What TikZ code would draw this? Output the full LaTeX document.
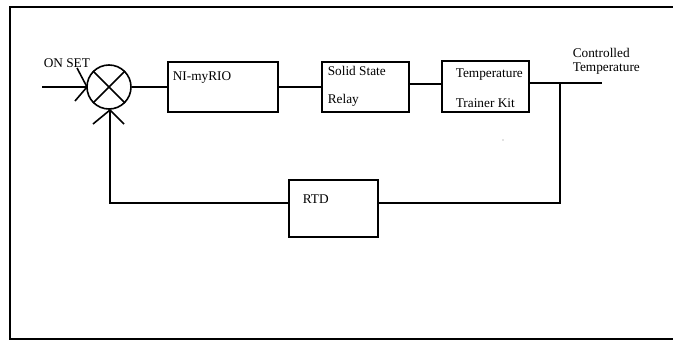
\documentclass[tikz,border=0pt]{standalone}
\usepackage{fontspec}
\setmainfont{Liberation Serif}
\begin{document}
\begin{tikzpicture}[x=1pt,y=-1pt,
  line width=1.6pt,
  blockbox/.style={draw, rectangle, inner sep=0pt},
  lbl/.style={inner sep=0pt, anchor=base west, font=\fontsize{13.3}{15}\selectfont},
  tipline/.style={line width=1.6pt}]
\useasboundingbox (0,0) rectangle (673,340);
% frame
\draw[line width=2pt] (673,7) -- (10,7) -- (10,338.5) -- (673,338.5);
% summing junction
\node[draw, circle, minimum size=44pt, inner sep=0pt] (sum) at (109,87) {};
\draw (sum.north west) -- (sum.south east);
\draw (sum.north east) -- (sum.south west);
% blocks
\node[blockbox, minimum width=110pt, minimum height=50pt] (ni) at (223,87) {};
\node[blockbox, minimum width=87pt, minimum height=50pt] (ssr) at (365.5,87) {};
\node[blockbox, minimum width=87pt, minimum height=51pt] (tk) at (485.5,86.5) {};
\node[blockbox, minimum width=89pt, minimum height=57pt] (rtd) at (333.5,208.5) {};
% labels
\node[lbl] (onset) at (43,67) {ON SET};
\node[lbl] (nit) at (172,80) {NI-myRIO};
\node[lbl] (ssr1) at (327,75) {Solid State};
\node[lbl] (ssr2) at (327,103) {Relay};
\node[lbl] (tk1) at (455,77) {Temperature};
\node[lbl] (tk2) at (455,107) {Trainer Kit};
\node[lbl] (ct1) at (572,57) {Controlled};
\node[lbl] (ct2) at (572,71) {Temperature};
\node[lbl] (rtdt) at (302,203) {RTD};
% coordinates
\coordinate (in) at (42,87);
\coordinate (br) at (560,83);
\coordinate (out) at (602,83);
\coordinate (fbr) at (560,203);
\coordinate (fbl) at (110,203);
\coordinate (fbtip) at (110,110);
% forward path
\draw (in) -- (sum.west);
\draw (sum.east) -- (ni.west);
\draw (ni.east) -- (ssr.west);
\draw (ssr.east |- 0,84) -- (tk.west |- 0,84);
\draw (tk.east |- out) -- (out);
% feedback path
\draw (br) -- (fbr) -- (rtd.east |- fbr);
\draw (rtd.west |- fbl) -- (fbl) -- (fbtip);
% open arrowheads
\coordinate (intip) at (87,87);
\coordinate (ina) at (77,68);
\coordinate (inb) at (75,101);
\draw[tipline] (ina) -- (intip) -- (inb);
\coordinate (fba) at (93,124);
\coordinate (fbb) at (124,124);
\draw[tipline] (fba) -- (fbtip) -- (fbb);
% small dot
\fill[gray] (503,140) circle (0.7);
\end{tikzpicture}
\end{document}
